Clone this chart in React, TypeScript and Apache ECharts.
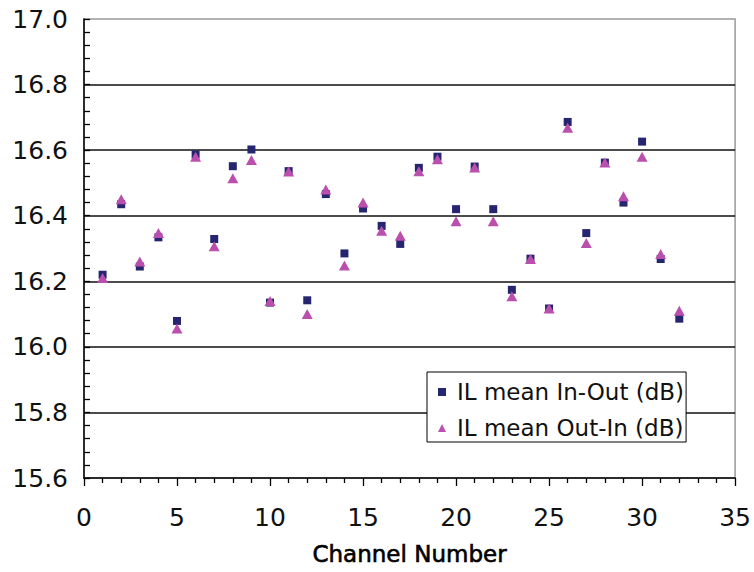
import React, { useEffect, useRef } from "react";
import * as echarts from "echarts";

const channels = [1, 2, 3, 4, 5, 6, 7, 8, 9, 10, 11, 12, 13, 14, 15, 16, 17, 18, 19, 20, 21, 22, 23, 24, 25, 26, 27, 28, 29, 30, 31, 32];
const inOut = [16.22, 16.435, 16.245, 16.334, 16.079, 16.587, 16.329, 16.551, 16.602, 16.135, 16.536, 16.142, 16.466, 16.285, 16.422, 16.369, 16.314, 16.546, 16.58, 16.42, 16.55, 16.42, 16.174, 16.269, 16.117, 16.686, 16.347, 16.562, 16.44, 16.626, 16.268, 16.086];
const outIn = [16.21, 16.45, 16.26, 16.347, 16.056, 16.58, 16.307, 16.514, 16.57, 16.14, 16.535, 16.1, 16.48, 16.248, 16.44, 16.354, 16.339, 16.536, 16.572, 16.383, 16.547, 16.383, 16.154, 16.268, 16.117, 16.668, 16.317, 16.562, 16.459, 16.58, 16.283, 16.11];
const seriesNames = ["IL mean In-Out (dB)", "IL mean Out-In (dB)"];
const xTitle = "Channel Number";

export default function App() {
  const ref = useRef<HTMLDivElement>(null);
  useEffect(() => {
    if (!ref.current) return;
    const chart = echarts.init(ref.current, null, { renderer: "svg" });
    const font = "DejaVu Sans";
    chart.setOption({
      animation: false,
      backgroundColor: "#ffffff",
      grid: {
        left: 84,
        right: 18,
        top: 19,
        bottom: 94,
        show: true,
        borderColor: "#999999",
        borderWidth: 1.5,
        backgroundColor: "transparent",
      },
      legend: {
        orient: "vertical",
        left: 427,
        top: 372,
        padding: [6, 2, 0, 11],
        itemGap: 8,
        itemWidth: 8,
        itemHeight: 8,
        backgroundColor: "#ffffff",
        borderColor: "#000000",
        borderWidth: 1,
        textStyle: {
          fontFamily: font,
          fontSize: 23,
          color: "#111111",
          lineHeight: 28,
          padding: [0, 0, 0, 6],
        },
        data: [
          { name: seriesNames[0], icon: "rect", itemStyle: { color: "#262670", opacity: 1 } },
          { name: seriesNames[1], icon: "triangle", itemStyle: { color: "#bb4fae", opacity: 1 } },
        ],
      },
      xAxis: {
        type: "value",
        min: 0,
        max: 35,
        interval: 5,
        name: xTitle,
        nameLocation: "middle",
        nameGap: 64,
        nameTextStyle: {
          fontFamily: font,
          fontSize: 23,
          color: "#000000",
          textBorderColor: "#000000",
          textBorderWidth: 0.6,
        },
        axisLine: { show: true, onZero: false, lineStyle: { color: "#000000", width: 1.5 } },
        axisTick: { show: true, inside: false, length: 8, lineStyle: { color: "#000000", width: 1.3 } },
        minorTick: { show: true, splitNumber: 5, length: 5, lineStyle: { color: "#000000", width: 1.3 } },
        axisLabel: { fontFamily: font, fontSize: 25, color: "#111111", margin: 27 },
        splitLine: { show: false },
      },
      yAxis: {
        type: "value",
        min: 15.6,
        max: 17.0,
        interval: 0.2,
        axisLine: { show: true, onZero: false, lineStyle: { color: "#000000", width: 1.5 } },
        axisTick: { show: true, inside: true, length: 6, lineStyle: { color: "#000000", width: 1.3 } },
        minorTick: { show: true, splitNumber: 5, length: 6, lineStyle: { color: "#000000", width: 1.3 } },
        axisLabel: {
          fontFamily: font,
          fontSize: 25,
          color: "#111111",
          margin: 16,
          formatter: (v: number) => v.toFixed(1),
        },
        splitLine: {
          show: true,
          showMinLine: false,
          showMaxLine: false,
          lineStyle: { color: "#111111", width: 1.5 },
        },
      },
      series: [
        {
          name: seriesNames[0],
          type: "scatter",
          symbol: "rect",
          symbolSize: 8,
          itemStyle: { color: "#262670", opacity: 1 },
          data: channels.map((c, i) => [c, inOut[i]]),
          z: 3,
        },
        {
          name: seriesNames[1],
          type: "scatter",
          symbol: "triangle",
          symbolSize: [11, 10],
          itemStyle: { color: "#bb4fae", opacity: 1 },
          data: channels.map((c, i) => [c, outIn[i]]),
          z: 4,
        },
      ],
    });
    return () => chart.dispose();
  }, []);
  return <div ref={ref} style={{ width: 754, height: 572, position: "absolute", left: 0, top: 0 }} />;
}
